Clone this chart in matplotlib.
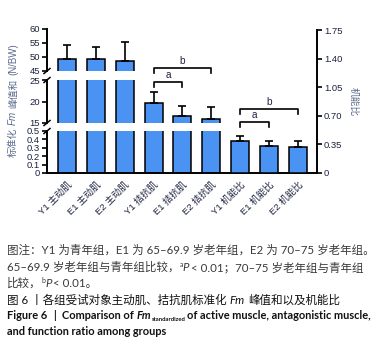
import numpy as np
import matplotlib
matplotlib.use("Agg")
import matplotlib.pyplot as plt
from matplotlib.transforms import IdentityTransform

plt.rcParams['font.family'] = ['Liberation Sans', 'Noto Sans CJK SC']

groups = ['Y1 主动肌', 'E1 主动肌', 'E2 主动肌',
          'Y1 拮抗肌', 'E1 拮抗肌', 'E2 拮抗肌',
          'Y1 机能比', 'E1 机能比', 'E2 机能比']
active_mean = [49.3, 49.4, 48.6]
active_sd = [5.0, 4.1, 6.6]
antag_mean = [19.6, 16.6, 15.9]
antag_sd = [2.5, 2.4, 2.9]
ratio_mean = [0.395, 0.334, 0.320]
ratio_sd = [0.061, 0.061, 0.072]

left_ticks = [[45, 50, 55, 60], [15, 20, 25], [0, 0.1, 0.2, 0.3, 0.4, 0.5]]
left_lims = [(45, 60), (15, 25), (0, 0.5)]
right_ticks = [0, 0.35, 0.70, 1.05, 1.40, 1.75]

# brackets: (from, to, label, level in right-axes fraction)
brackets = [(3, 4, 'a', 0.638), (3, 5, 'b', 0.736),
            (6, 7, 'a', 0.359), (6, 8, 'b', 0.448)]

W, H = 378, 347
fig = plt.figure(figsize=(W / 100, H / 100), dpi=100)

BLUE = '#4b93f3'
NAVY = '#1c2340'
LBL = '#5b6b8c'
x = np.arange(len(groups))
lv = np.array(active_mean + antag_mean)
le = np.array(active_sd + antag_sd)
xl = (-0.69, 8.66)


def px(x0, y_top, x1, y_bot):
    return [x0 / W, 1 - y_bot / H, (x1 - x0) / W, (y_bot - y_top) / H]


seg_px = [(29, 71), (80, 123), (131, 173)]
axes = []
for i, (yt, yb) in enumerate(seg_px):
    ax = fig.add_axes(px(47, yt, 317, yb))
    ax.bar(x[:6], lv, width=0.62, color=BLUE, edgecolor='black', linewidth=1.1)
    ax.errorbar(x[:6], lv, yerr=[np.zeros(6), le], fmt='none', ecolor='black',
                elinewidth=1.2, capsize=3.2, capthick=1.2)
    ax.set_xlim(*xl)
    ax.set_ylim(*left_lims[i])
    ax.set_yticks(left_ticks[i])
    ax.set_yticklabels([('%g' % v) for v in left_ticks[i]])
    for s in ['top', 'right']:
        ax.spines[s].set_visible(False)
    ax.spines['left'].set_linewidth(1.4)
    ax.tick_params(axis='y', length=3.5, width=1.2, pad=1.5, labelsize=6.8,
                   labelcolor=NAVY)
    ax.patch.set_visible(False)
    if i < 2:
        ax.spines['bottom'].set_visible(False)
        ax.set_xticks([])
    else:
        ax.spines['bottom'].set_linewidth(1.4)
        ax.set_xticks(x)
        ax.set_xticklabels(groups, rotation=45, ha='right', va='top',
                           rotation_mode='anchor', fontsize=6.8, color=NAVY)
        ax.tick_params(axis='x', length=0, pad=5)
    axes.append(ax)

# break marks on the left spine
for yy in [71, 80, 123, 131]:
    fig.add_artist(plt.Line2D([(47 - 3) / W, (47 + 3) / W],
                              [1 - (yy + 2.5) / H, 1 - (yy - 2.5) / H],
                              color='black', lw=1.1))

# right axis: function ratio
ax_r = fig.add_axes(px(47, 30, 317, 173))
ax_r.patch.set_visible(False)
ax_r.bar(x[6:], ratio_mean, width=0.62, color=BLUE, edgecolor='black', linewidth=1.1)
ax_r.errorbar(x[6:], ratio_mean, yerr=[np.zeros(3), ratio_sd], fmt='none',
              ecolor='black', elinewidth=1.2, capsize=3.2, capthick=1.2)
ax_r.set_xlim(*xl)
ax_r.set_ylim(0, 1.75)
ax_r.yaxis.tick_right()
ax_r.set_yticks(right_ticks)
ax_r.set_yticklabels(['0'] + ['%.2f' % v for v in right_ticks[1:]])
ax_r.set_xticks([])
for s in ['top', 'left', 'bottom']:
    ax_r.spines[s].set_visible(False)
ax_r.spines['right'].set_linewidth(1.4)
ax_r.tick_params(axis='y', length=3.5, width=1.2, pad=1.5, labelsize=6.8,
                 labelcolor=NAVY)
ax_r.set_ylabel('机能比', rotation=-90, color=LBL, fontsize=7, labelpad=12)
ax_r.yaxis.set_label_position('right')

tr = ax_r.get_xaxis_transform()
for a, b, lab, lev in brackets:
    ax_r.plot([a, a, b, b], [lev - 0.037, lev, lev, lev - 0.037], color='black',
              lw=1.2, transform=tr, clip_on=False)
    ax_r.text((a + b) / 2, lev + 0.012, lab, ha='center', va='bottom',
              fontsize=7.2, color=NAVY, transform=tr)

fig.canvas.draw()
rend = fig.canvas.get_renderer()


def runs(x0, y0, parts, rot=0, **base):
    """write a sequence of styled pieces one after another (pixel coords, y from top)"""
    pos = [x0, H - y0]
    for p in parts:
        if isinstance(p, (int, float)):
            pos[1 if rot else 0] += p
            continue
        s, kw = p if isinstance(p, tuple) else (p, {})
        o = dict(base)
        o.update(kw)
        dy = o.pop('dy', 0)
        if rot:
            t = fig.text(pos[0], pos[1], s, rotation=rot, ha='center', va='bottom',
                         transform=IdentityTransform(), **o)
            pos[1] += t.get_window_extent(rend).height
        else:
            t = fig.text(pos[0], pos[1] + dy, s, ha='left', va='baseline',
                         transform=IdentityTransform(), **o)
            pos[0] += t.get_window_extent(rend).width


it = {'style': 'italic'}
runs(13, 157, ['标准化', 3, ('Fm', it), 3, '峰值和', 3, '(N/BW)'], rot=90,
     fontsize=7, color=LBL)

cap = ['Lato', 'Noto Sans CJK SC']
cfs = 8.3
efs = 7.9
GRAY = '#3a3a3a'
runs(7, 254, ['图注：Y1 为青年组，E1 为 65–69.9 岁老年组，E2 为 70–75 岁老年组。'],
     fontsize=cfs, color=GRAY, family=cap)
runs(7, 271, ['65–69.9 岁老年组与青年组比较，', ('a', {'fontsize': 5, 'dy': 4}),
              ('P', it), 2, '< 0.01；70–75 岁老年组与青年组'],
     fontsize=cfs, color=GRAY, family=cap)
runs(7, 287, ['比较，', ('b', {'fontsize': 5, 'dy': 4}), ('P', it), 1, '< 0.01。'],
     fontsize=cfs, color=GRAY, family=cap)
runs(7, 303.5, ['图 6 丨各组受试对象主动肌、拮抗肌标准化', 3, ('Fm', it), 3,
                '峰值和以及机能比'], fontsize=cfs, color='#111111', family=cap)
bo = {'fontweight': 'bold'}
runs(7, 319, ['Figure 6', 6, '|', 6, 'Comparison of', 3,
              ('Fm', {'style': 'italic'}), ('standardized', {'fontsize': 4.2, 'dy': -2}),
              2, 'of active muscle, antagonistic muscle,'],
     fontsize=efs, color='#111111', family=cap, **bo)
runs(7, 335, ['and function ratio among groups'],
     fontsize=efs, color='#111111', family=cap, **bo)

fig.savefig('out.png', dpi=100)
